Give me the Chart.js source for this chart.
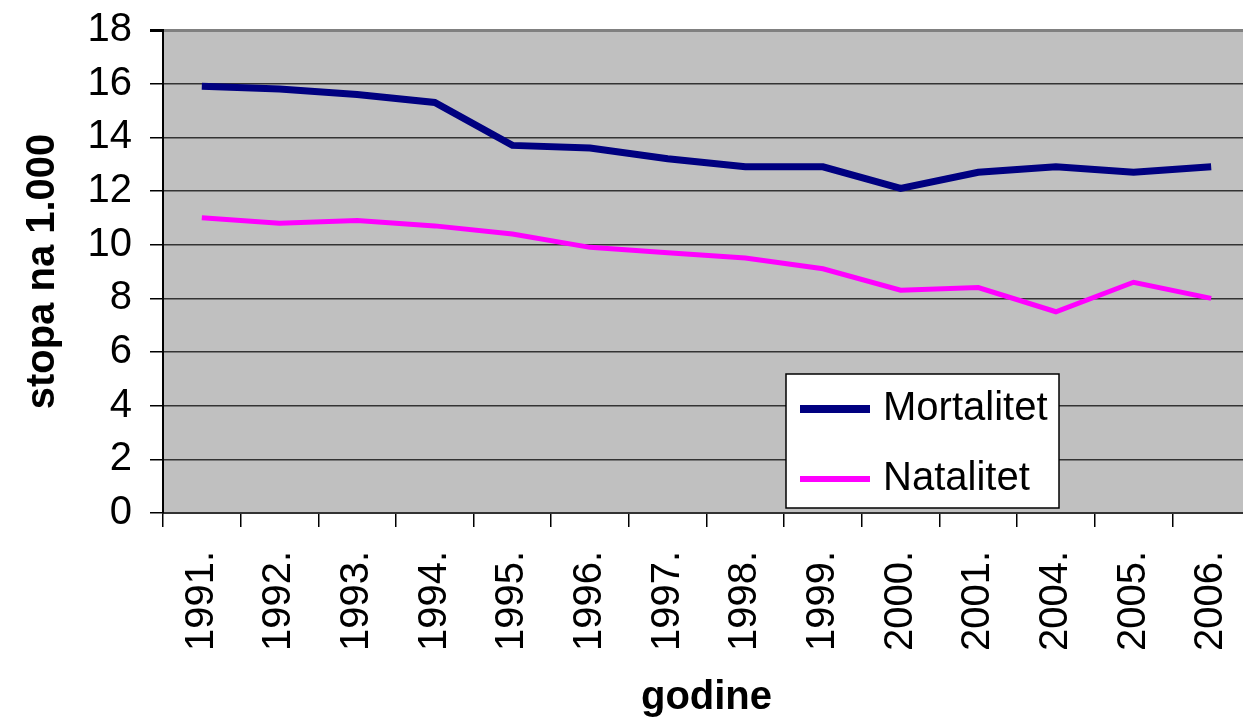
<!DOCTYPE html>
<html>
<head>
<meta charset="utf-8">
<script src="https://cdn.jsdelivr.net/npm/chart.js@4/dist/chart.umd.min.js"></script>
<style>
  html, body { margin: 0; padding: 0; background: #fff; overflow: hidden; }
  #wrap { width: 1250px; height: 727px; }
</style>
</head>
<body>
<div id="wrap"><canvas id="c" width="1250" height="727"></canvas></div>
<script>
const years = ['1991.', '1992.', '1993.', '1994.', '1995.', '1996.', '1997.', '1998.', '1999.', '2000.', '2001.', '2004.', '2005.', '2006.'];
const mortalitet = [15.9, 15.8, 15.6, 15.3, 13.7, 13.6, 13.2, 12.9, 12.9, 12.1, 12.7, 12.9, 12.7, 12.9];
const natalitet = [11.0, 10.8, 10.9, 10.7, 10.4, 9.9, 9.7, 9.5, 9.1, 8.3, 8.4, 7.5, 8.6, 8.0];
const yTicks = [0, 2, 4, 6, 8, 10, 12, 14, 16, 18];

const FONT = "'Liberation Sans', Arial, sans-serif";

const plotBg = {
  id: 'plotBg',
  beforeDraw(chart) {
    const {ctx, chartArea: a} = chart;
    ctx.save();
    ctx.fillStyle = '#C0C0C0';
    ctx.fillRect(a.left, a.top, a.right - a.left, a.bottom - a.top);
    ctx.restore();
  }
};

const boxLegend = {
  id: 'boxLegend',
  afterDraw(chart) {
    const ctx = chart.ctx;
    const bx = 786, by = 374, bw = 273, bh = 134;
    ctx.save();
    ctx.fillStyle = '#fff';
    ctx.fillRect(bx, by, bw, bh);
    ctx.strokeStyle = '#000';
    ctx.lineWidth = 1.5;
    ctx.strokeRect(bx, by, bw, bh);
    const rows = [409, 479];
    chart.data.datasets.forEach((ds, i) => {
      const y = rows[i];
      ctx.beginPath();
      ctx.strokeStyle = ds.borderColor;
      ctx.lineWidth = ds.borderWidth + 1;
      ctx.lineCap = 'butt';
      ctx.moveTo(800, y);
      ctx.lineTo(870, y);
      ctx.stroke();
      ctx.fillStyle = '#000';
      ctx.font = '40px ' + FONT;
      ctx.textBaseline = 'middle';
      ctx.textAlign = 'left';
      ctx.fillText(ds.label, 883, y);
    });
    ctx.restore();
  }
};

new Chart(document.getElementById('c'), {
  type: 'line',
  data: {
    labels: years,
    datasets: [
      { label: 'Mortalitet', data: mortalitet, borderColor: '#000080', backgroundColor: '#000080', borderWidth: 7, pointRadius: 0, tension: 0, fill: false },
      { label: 'Natalitet', data: natalitet, borderColor: '#FF00FF', backgroundColor: '#FF00FF', borderWidth: 5, pointRadius: 0, tension: 0, fill: false }
    ]
  },
  options: {
    responsive: false,
    animation: false,
    devicePixelRatio: 1,
    layout: { padding: { top: 30, left: 0, right: 0, bottom: 0 } },
    plugins: { legend: { display: false }, tooltip: { enabled: false }, title: { display: false } },
    scales: {
      x: {
        offset: true,
        grid: { offset: true, drawOnChartArea: false, drawTicks: true, tickLength: 14, color: '#000', lineWidth: 1.5 },
        border: { display: true, color: '#333', width: 2 },
        ticks: { autoSkip: false, minRotation: 90, maxRotation: 90, color: '#000', padding: 24, font: { size: 40, family: FONT } },
        title: { display: true, text: 'godine', color: '#000', font: { size: 40, weight: 'bold', family: FONT }, padding: { top: 0, bottom: 5 } },
        afterFit(s) { s.height = 214; s.paddingLeft = 0; s.paddingRight = 0; }
      },
      y: {
        min: 0, max: 18,
        afterBuildTicks(s) { s.ticks = yTicks.map(v => ({ value: v })); },
        grid: {
          drawTicks: true, tickLength: 13, tickColor: '#000',
          color: c => (c.tick && c.tick.value === 18) ? '#808080' : '#333',
          lineWidth: c => (c.tick && c.tick.value === 18) ? 3 : 1.5
        },
        border: { display: true, color: '#000', width: 2 },
        ticks: { color: '#000', padding: 18, font: { size: 40, family: FONT } },
        title: { display: true, text: 'stopa na 1.000', color: '#000', font: { size: 40, weight: 'bold', family: FONT }, padding: { top: 19, bottom: 0 } },
        afterFit(s) { s.width = 163; s.paddingTop = 0; s.paddingBottom = 0; }
      }
    }
  },
  plugins: [plotBg, boxLegend]
});
</script>
</body>
</html>
